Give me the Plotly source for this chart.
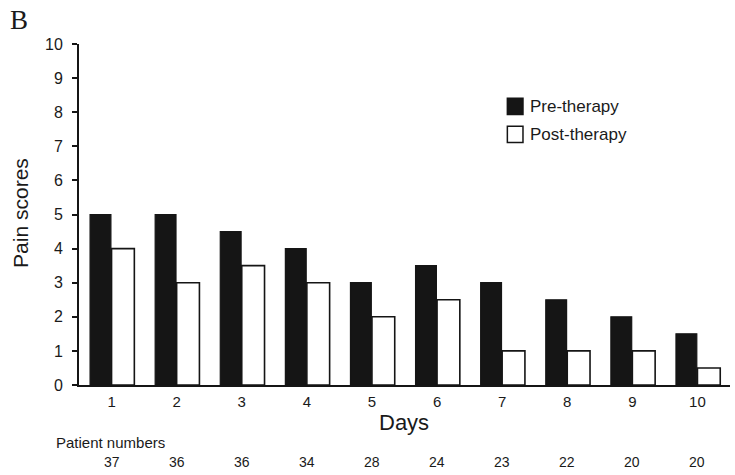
import plotly.graph_objects as go

days = [1, 2, 3, 4, 5, 6, 7, 8, 9, 10]
pre_therapy = [5, 5, 4.5, 4, 3, 3.5, 3, 2.5, 2, 1.5]
post_therapy = [4, 3, 3.5, 3, 2, 2.5, 1, 1, 1, 0.5]
patient_numbers = [37, 36, 36, 34, 28, 24, 23, 22, 20, 20]
y_ticks = [0, 1, 2, 3, 4, 5, 6, 7, 8, 9, 10]

FONT = "Liberation Sans, Arial, sans-serif"
TXT = "#1a1a1a"

fig = go.Figure()
fig.add_trace(go.Bar(
    x=days, y=pre_therapy, name="Pre-therapy", offset=-0.33, width=0.32,
    marker=dict(color="#151515", line=dict(color="#151515", width=1.2)),
    showlegend=False,
))
fig.add_trace(go.Bar(
    x=days, y=post_therapy, name="Post-therapy", offset=0.0, width=0.35,
    marker=dict(color="white", line=dict(color="#151515", width=1.6)),
    showlegend=False,
))

fig.update_layout(
    width=735, height=475,
    margin=dict(l=79, r=5, t=44, b=90),
    paper_bgcolor="white", plot_bgcolor="white",
    font=dict(family=FONT, color=TXT),
    barmode="overlay",
    xaxis=dict(
        range=[0.5, 10.5], tickmode="array", tickvals=days,
        ticktext=[str(d) for d in days],
        showline=True, linecolor="#151515", linewidth=2,
        ticks="", showgrid=False, zeroline=False,
        tickfont=dict(size=15, family=FONT, color=TXT),
        ticklabelstandoff=2,
    ),
    yaxis=dict(
        range=[0, 10], tickmode="array", tickvals=y_ticks,
        showline=True, linecolor="#151515", linewidth=2,
        ticks="outside", ticklen=5, tickwidth=1.5, tickcolor="#151515",
        showgrid=False, zeroline=False,
        tickfont=dict(size=16, family=FONT, color=TXT),
        ticklabelstandoff=6,
    ),
)

# legend drawn as shapes + text
legend_items = [("Pre-therapy", "#151515", 0.817), ("Post-therapy", "white", 0.735)]
for label, col, yc in legend_items:
    fig.add_shape(type="rect", xref="paper", yref="paper",
                  x0=0.658, x1=0.682, y0=yc - 0.024, y1=yc + 0.024,
                  fillcolor=col, line=dict(color="#151515", width=1.5))
    fig.add_annotation(text=label, xref="paper", yref="paper", x=0.690, y=yc,
                       xanchor="left", yanchor="middle", showarrow=False,
                       font=dict(size=17, family=FONT, color=TXT))

fig.add_annotation(text="Days", xref="paper", yref="paper", x=0.499, y=-0.111,
                   xanchor="center", yanchor="middle", showarrow=False,
                   font=dict(size=22, family=FONT, color=TXT))
fig.add_annotation(text="Pain scores", xref="paper", yref="paper", x=-0.091, y=0.504,
                   xanchor="center", yanchor="middle", showarrow=False, textangle=-90,
                   font=dict(size=21, family=FONT, color=TXT))
fig.add_annotation(text="B", xref="paper", yref="paper", x=-0.0914, y=1.07,
                   xanchor="center", yanchor="middle", showarrow=False,
                   font=dict(size=27, family="Liberation Serif, Times New Roman, serif", color=TXT))
fig.add_annotation(text="Patient numbers", xref="paper", yref="paper", x=-0.038, y=-0.170,
                   xanchor="left", yanchor="middle", showarrow=False,
                   font=dict(size=15, family=FONT, color=TXT))
for d, n in zip(days, patient_numbers):
    fig.add_annotation(text=str(n), xref="x", yref="paper", x=d, y=-0.226,
                       xanchor="center", yanchor="middle", showarrow=False,
                       font=dict(size=14, family=FONT, color=TXT))

fig.write_html("out.html")
